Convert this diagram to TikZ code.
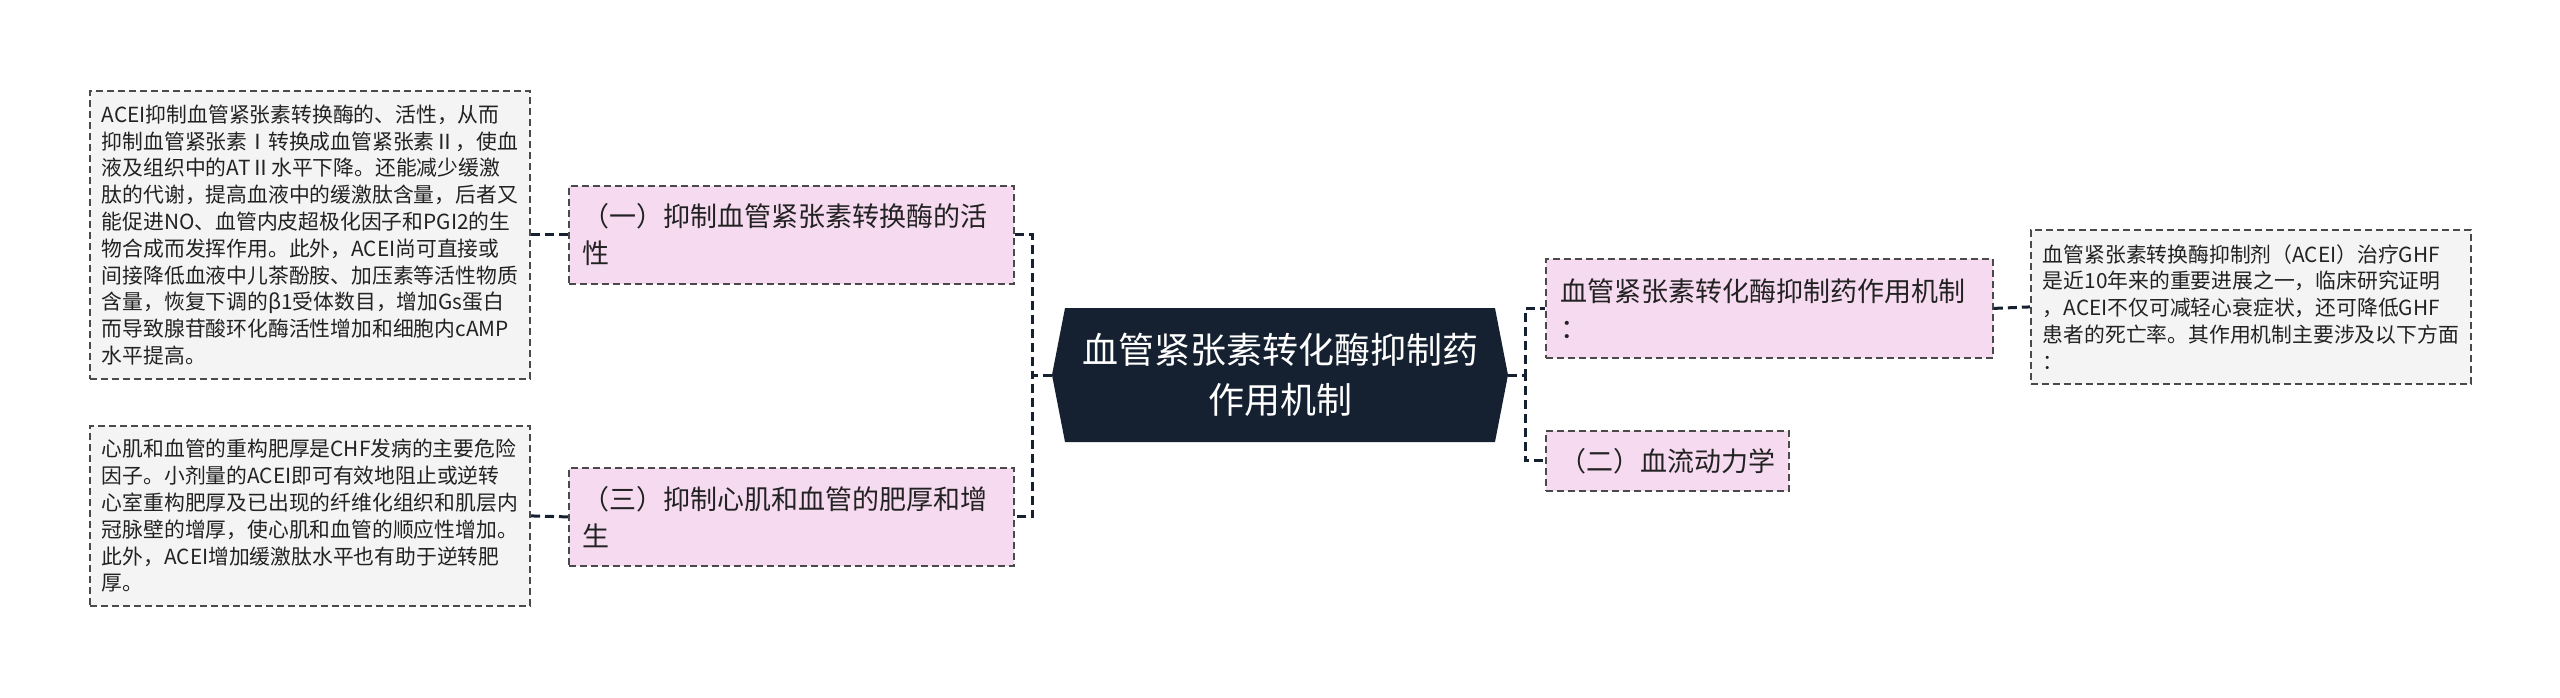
\documentclass[tikz,border=0pt]{standalone}
\usepackage{fontspec}
\setmainfont{Noto Sans CJK SC}
\usetikzlibrary{shapes.symbols}
\definecolor{Ink}{HTML}{152131}
\definecolor{Edge}{HTML}{4A4A4A}
\definecolor{Rose}{HTML}{F6DAF0}
\definecolor{Paper}{HTML}{F4F4F4}
\definecolor{Body}{HTML}{222222}
\tikzset{
    rootnode/.style={signal, signal to=west and east, signal pointer angle=158, fill=Ink, text=white, align=center, minimum width=456pt, minimum height=134pt, inner sep=0pt, font=\fontsize{36}{50}\selectfont},
    branchnode/.style={rectangle, draw=Edge, dash pattern=on 7pt off 4pt, line width=1.8pt, fill=Rose, text=Body, align=left, anchor=north west, inner xsep=14pt, inner ysep=0pt, font=\fontsize{27}{37}\selectfont},
    leafnode/.style={rectangle, draw=Edge, dash pattern=on 7pt off 4pt, line width=1.8pt, fill=Paper, text=Body, align=left, anchor=north west, inner xsep=12pt, inner ysep=0pt, text width=416pt, font=\fontsize{20.8}{26.8}\selectfont},
    link/.style={draw=Ink, dash pattern=on 9pt off 5pt, line width=3pt},
}
\begin{document}
\begin{tikzpicture}[x=1pt, y=-1pt]
    % Sfondo e dimensioni
    \fill[white] (0,0) rectangle (2560,697);

    % Nodo centrale
    \node[rootnode] (root) at (1280,375) {血管紧张素转化酶抑制药\\作用机制};

    % Rami a sinistra
    \node[branchnode, text width=417pt, minimum height=98pt] (inhibit) at (568,185) {（一）抑制血管紧张素转换酶的活\\性};
    \node[branchnode, text width=417pt, minimum height=98pt] (hyper) at (568,467) {（三）抑制心肌和血管的肥厚和增\\生};

    % Foglie a sinistra
    \node[leafnode, minimum height=288pt] (inhibitnote) at (89,90) {ACEI抑制血管紧张素转换酶的、活性，从而\\抑制血管紧张素Ⅰ转换成血管紧张素Ⅱ，使血\\液及组织中的ATⅡ水平下降。还能减少缓激\\肽的代谢，提高血液中的缓激肽含量，后者又\\能促进NO、血管内皮超极化因子和PGI2的生\\物合成而发挥作用。此外，ACEI尚可直接或\\间接降低血液中儿茶酚胺、加压素等活性物质\\含量，恢复下调的β1受体数目，增加Gs蛋白\\而导致腺苷酸环化酶活性增加和细胞内cAMP\\水平提高。};
    \node[leafnode, minimum height=180pt] (hypernote) at (89,425) {心肌和血管的重构肥厚是CHF发病的主要危险\\因子。小剂量的ACEI即可有效地阻止或逆转\\心室重构肥厚及已出现的纤维化组织和肌层内\\冠脉壁的增厚，使心肌和血管的顺应性增加。\\此外，ACEI增加缓激肽水平也有助于逆转肥\\厚。};

    % Rami a destra
    \node[branchnode, inner xsep=15pt, text width=417pt, minimum height=99pt] (mech) at (1545,258) {血管紧张素转化酶抑制药作用机制\\：};
    \node[branchnode, inner xsep=13.5pt, minimum height=60pt] (flow) at (1545,430) {（二）血流动力学};

    % Foglia a destra
    \node[leafnode, minimum height=154pt] (mechnote) at (2030,229) {血管紧张素转换酶抑制剂（ACEI）治疗GHF\\是近10年来的重要进展之一，临床研究证明\\，ACEI不仅可减轻心衰症状，还可降低GHF\\患者的死亡率。其作用机制主要涉及以下方面\\：};

    % Collegamenti
    \draw[link] (root.west) -- ++(-19,0) |- (inhibit.east);
    \draw[link] (root.west) -- ++(-19,0) |- (hyper.east);
    \draw[link] (root.east) -- ++(17,0) |- (mech.west);
    \draw[link] (root.east) -- ++(17,0) |- (flow.west);
    \draw[link] (inhibit.west) -- (inhibitnote.east);
    \draw[link] (hyper.west) -- (hypernote.east);
    \draw[link] (mech.east) -- (mechnote.west);
\end{tikzpicture}
\end{document}
